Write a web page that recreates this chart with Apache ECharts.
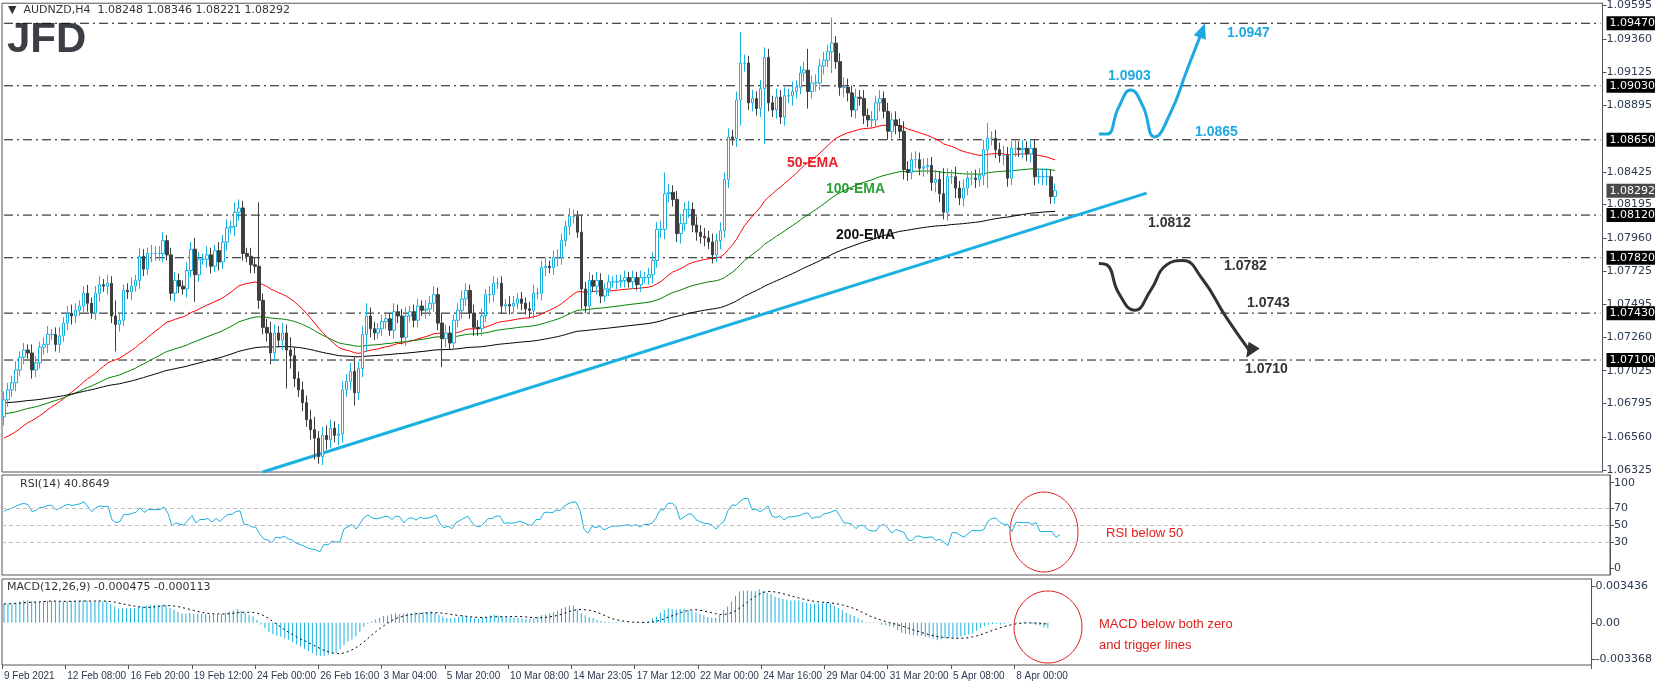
<!DOCTYPE html>
<html>
<head>
<meta charset="utf-8">
<script src="https://cdn.jsdelivr.net/npm/echarts@6/dist/echarts.min.js"></script>
<style>
  html, body { margin: 0; padding: 0; background: #fff; }
  #chart { width: 1655px; height: 687px; }
</style>
</head>
<body>
<div id="chart"></div>
<script>
// AUDNZD H4 closes
var closes = [
  1.0682,1.0689,1.0694,1.0703,1.0712,1.0717,1.0715,1.0703,1.0708,1.0719,1.0721,1.0728,1.0728,1.0721,1.0727,1.0736,1.0743,1.0741,1.0745,1.0748,
  1.0757,1.0750,1.0743,1.0757,1.0763,1.0762,1.0764,1.0741,1.0735,1.0738,1.0759,1.0758,1.0762,1.0766,1.0783,1.0774,1.0785,1.0785,1.0785,1.0785,
  1.0794,1.0784,1.0757,1.0766,1.0762,1.0760,1.0773,1.0788,1.0770,1.0781,1.0781,1.0784,1.0776,1.0787,1.0779,1.0793,1.0803,1.0804,1.0814,1.0817,
  1.0785,1.0783,1.0777,1.0776,1.0752,1.0733,1.0729,1.0715,1.0729,1.0724,1.0729,1.0717,1.0713,1.0697,1.0689,1.0680,1.0668,1.0661,1.0655,1.0642,
  1.0657,1.0654,1.0662,1.0657,1.0658,1.0689,1.0695,1.0702,1.0687,1.0704,1.0728,1.0741,1.0732,1.0729,1.0732,1.0737,1.0739,1.0731,1.0744,1.0741,
  1.0726,1.0741,1.0744,1.0738,1.0748,1.0745,1.0746,1.0750,1.0756,1.0736,1.0725,1.0729,1.0722,1.0738,1.0745,1.0753,1.0759,1.0743,1.0733,1.0732,
  1.0741,1.0756,1.0756,1.0764,1.0764,1.0748,1.0749,1.0748,1.0750,1.0753,1.0750,1.0746,1.0745,1.0757,1.0757,1.0775,1.0776,1.0775,1.0782,1.0782,
  1.0794,1.0804,1.0811,1.0811,1.0800,1.0760,1.0748,1.0766,1.0762,1.0766,1.0755,1.0760,1.0765,1.0765,1.0765,1.0766,1.0768,1.0765,1.0768,1.0763,
  1.0768,1.0768,1.0770,1.0780,1.0802,1.0802,1.0827,1.0828,1.0823,1.0799,1.0806,1.0816,1.0816,1.0805,1.0800,1.0797,1.0796,1.0793,1.0784,1.0794,
  1.0801,1.0837,1.0867,1.0866,1.0893,1.0919,1.0919,1.0891,1.0894,1.0887,1.0901,1.0923,1.0891,1.0886,1.0895,1.0881,1.0896,1.0896,1.0899,1.0902,
  1.0912,1.0914,1.0899,1.0905,1.0905,1.0917,1.0921,1.0927,1.0933,1.0920,1.0902,1.0902,1.0898,1.0886,1.0895,1.0894,1.0882,1.0879,1.0879,1.0891,
  1.0894,1.0885,1.0871,1.0879,1.0875,1.0871,1.0844,1.0842,1.0851,1.0851,1.0845,1.0846,1.0847,1.0835,1.0837,1.0827,1.0814,1.0839,1.0839,1.0831,
  1.0824,1.0831,1.0838,1.0838,1.0837,1.0840,1.0858,1.0866,1.0866,1.0858,1.0854,1.0854,1.0838,1.0859,1.0859,1.0858,1.0859,1.0855,1.0859,1.0839,
  1.0839,1.0839,1.0839,1.0825,1.08292
];
var firstOpen = 1.0670;
// wick length per bar in pips (both sides)
var wick = [
  6,5,5,6,4,5,4,6,5,4,5,6,4,5,6,4,5,6,5,4, 5,6,4,5,6,4,6,5,9,5,4,5,6,4,6,5,4,6,5,5,
  6,4,5,6,5,4,6,5,8,5,4,6,5,4,6,5,6,4,7,6, 5,4,6,5,6,5,6,8,6,5,7,6,9,6,5,6,5,7,6,5,
  6,7,6,5,7,6,5,6,7,5,6,5,6,5,4,5,5,4,6,5, 5,6,4,5,5,4,6,5,6,5,4,6,5,4,5,6,5,4,6,5,
  5,4,6,5,4,5,4,6,5,4,5,4,5,6,4,5,6,4,5,6, 5,4,6,5,4,7,5,6,4,6,5,4,5,4,5,4,5,4,5,4,
  5,4,5,6,5,6,7,6,5,6,7,5,6,5,6,5,6,5,6,5, 6,5,6,5,6,7,6,5,6,5,6,7,6,5,6,5,6,5,7,5,
  5,6,7,5,6,5,6,5,6,5,6,7,6,5,6,5,6,5,6,5, 6,5,6,5,6,5,7,6,5,6,5,6,5,6,7,6,5,6,5,7,
  5,6,5,5,6,5,7,6,5,6,5,7,6,5,6,5,6,5,6,6, 5,6,6,5,5
];
// a few long wicks: [bar, high, low]
var spikes = [[28,1.0752,1.0716],[48,1.0796,1.0751],[64,1.0821,1.0746],[71,1.0728,1.0690],[78,1.0670,1.0640],
  [88,1.0712,1.0678],[91,1.0750,1.0716],[110,1.0743,1.0705],[145,1.0812,1.0746],[166,1.0842,1.0797],
  [185,1.0941,1.0875],[191,1.0929,1.0862],[202,1.0929,1.0887],[208,1.0951,1.0912],[236,1.0845,1.0812],[247,1.0877,1.0831]];
var emaSeeds = { e50: 1.0654, e100: 1.0672, e200: 1.0680, e12: 1.0670, e26: 1.0652 };
var levels = [1.0947, 1.0903, 1.0865, 1.0812, 1.0782, 1.0743, 1.0710];
var lastPrice = 1.08292;
var trendLine = [[65, 1.06312], [287, 1.08275]];
var bullPath = [[275,1.0869],[277,1.0869],[280,1.0888],[283,1.0900],[286,1.0889],[289,1.0867],[293,1.0884],[297,1.0913],[301,1.0942]];
var bearPath = [[275,1.0778],[277,1.0777],[280,1.0757],[284,1.0745],[288,1.0759],[292,1.0777],[296,1.0780],[301,1.0767],[307,1.0740],[313,1.0716]];
var priceTicks = [1.09595,1.0936,1.09125,1.08895,1.08425,1.08195,1.0796,1.07725,1.07495,1.0726,1.07025,1.06795,1.0656,1.06325];
var timeLabels = ['9 Feb 2021','12 Feb 08:00','16 Feb 20:00','19 Feb 12:00','24 Feb 00:00','26 Feb 16:00','3 Mar 04:00','5 Mar 20:00',
  '10 Mar 08:00','14 Mar 23:05','17 Mar 12:00','22 Mar 00:00','24 Mar 16:00','29 Mar 04:00','31 Mar 20:00','5 Apr 08:00','8 Apr 00:00'];
var slots = 402, labelStep = 16;

var blue = '#1ab1e0';
var cats = [], ohlc = [];
for (var i = 0; i < slots; i++) cats.push(i % labelStep === 0 ? (timeLabels[i / labelStep] || '') : '');
var spikeMap = {};
spikes.forEach(function (s) { spikeMap[s[0]] = s; });
for (var i = 0; i < closes.length; i++) {
  var o = i ? closes[i - 1] : firstOpen, c = closes[i], w = wick[i] * 0.0001;
  var hi = Math.max(o, c) + w, lo = Math.min(o, c) - w;
  if (spikeMap[i]) { hi = Math.max(hi, spikeMap[i][1]); lo = Math.min(lo, spikeMap[i][2]); }
  ohlc.push([o, c, lo, hi]);
}
function ema(src, n, seed) {
  var k = 2 / (n + 1), v = seed, out = [];
  src.forEach(function (x) { v = v + k * (x - v); out.push(v); });
  return out;
}
var ema50 = ema(closes, 50, emaSeeds.e50), ema100 = ema(closes, 100, emaSeeds.e100), ema200 = ema(closes, 200, emaSeeds.e200);
var e12 = ema(closes, 12, emaSeeds.e12), e26 = ema(closes, 26, emaSeeds.e26);
var macd = e12.map(function (v, i) { return v - e26[i]; });
var signal = macd.map(function (v, i) {
  var s = 0, n = 0; for (var j = Math.max(0, i - 8); j <= i; j++) { s += macd[j]; n++; } return s / n;
});
var rsi = [], ag = 0.0006, al = 0.0003;
for (var i = 0; i < closes.length; i++) {
  var d = i ? closes[i] - closes[i - 1] : 0;
  ag = (ag * 13 + Math.max(d, 0)) / 14; al = (al * 13 + Math.max(-d, 0)) / 14;
  rsi.push(100 - 100 / (1 + ag / al));
}

var dashDot = [9, 4, 2, 4];
function levelSeries(v, bg, hideLine) {
  return {
    type: 'line', data: [[0, v], [slots - 1, v]], silent: true, symbol: 'none', z: 1,
    lineStyle: { color: '#111', type: dashDot, width: 1, opacity: hideLine ? 0 : 1 },
    endLabel: { show: true, distance: 6, formatter: v.toFixed(5), color: '#fff', backgroundColor: bg,
      padding: [2, 3, 1, 3], fontSize: 11, fontFamily: 'DejaVu Sans' },
    labelLayout: { hideOverlap: false }
  };
}

var chart = echarts.init(document.getElementById('chart'), null, { renderer: 'canvas' });
var axisText = { color: '#2b3a4f', fontSize: 11, fontFamily: 'DejaVu Sans' };
var grids = [
  { left: 2, right: 45, top: 3, height: 469 },
  { left: 2, right: 45, top: 475, height: 100 },
  { left: 2, right: 45, top: 579, height: 86 }
].map(function (g) { g.show = true; g.borderColor = '#555'; g.borderWidth = 1; return g; });

function onLabel(i) { return i % labelStep === 0 && i / labelStep < timeLabels.length; }
function xAx(idx, labels) {
  return {
    type: 'category', gridIndex: idx, data: cats, boundaryGap: true,
    axisLine: { show: false, onZero: false }, axisTick: { show: labels, interval: onLabel, length: 4, lineStyle: { color: '#555' } },
    axisLabel: labels ? { show: true, interval: onLabel, align: 'left', margin: 6, color: '#2b3a4f', fontSize: 10, fontFamily: 'Liberation Sans' } : { show: false },
    splitLine: { show: false }
  };
}
function yAx(idx, min, max, ticks, fmt) {
  return {
    type: 'value', gridIndex: idx, position: 'right', min: min, max: max, scale: true,
    axisLine: { show: true, lineStyle: { color: '#555' } },
    axisTick: { show: true, customValues: ticks, length: 4, lineStyle: { color: '#555' } },
    axisLabel: Object.assign({ customValues: ticks, formatter: fmt, margin: 4 }, axisText),
    splitLine: { show: false }
  };
}

var series = [];
levels.forEach(function (v) { series.push(levelSeries(v, '#000', false)); });
series.push(levelSeries(lastPrice, '#4a4a4a', true));
series = series.concat([
  {
    type: 'candlestick', data: ohlc, barWidth: 3, z: 3,
    itemStyle: { color: '#ffffff', color0: '#3f3f3f', borderColor: blue, borderColor0: '#3f3f3f', borderWidth: 1 }
  },
  { type: 'line', data: ema50, showSymbol: false, lineStyle: { color: '#ff0000', width: 1 } },
  { type: 'line', data: ema100, showSymbol: false, lineStyle: { color: '#008000', width: 1 } },
  { type: 'line', data: ema200, showSymbol: false, lineStyle: { color: '#000', width: 1 } },
  { type: 'line', data: trendLine, showSymbol: false, lineStyle: { color: blue, width: 3 } },
  { type: 'line', data: bullPath, smooth: 0.5, symbol: 'none', lineStyle: { color: '#1ea8e0', width: 3 },
    markPoint: { symbol: 'triangle', symbolSize: [13, 15], symbolRotate: -20, itemStyle: { color: '#1ea8e0' },
      data: [{ coord: bullPath[bullPath.length - 1] }] } },
  { type: 'line', data: bearPath, smooth: 0.5, symbol: 'none', lineStyle: { color: '#333', width: 3 },
    markPoint: { symbol: 'triangle', symbolSize: [13, 15], symbolRotate: 148, itemStyle: { color: '#333' },
      data: [{ coord: bearPath[bearPath.length - 1] }] } },
  {
    type: 'line', xAxisIndex: 1, yAxisIndex: 1, data: rsi, showSymbol: false, lineStyle: { color: blue, width: 1 },
    markLine: { silent: true, symbol: 'none', label: { show: false }, lineStyle: { color: '#c0c0c0', type: [4, 3], width: 1 },
      data: [{ yAxis: 70 }, { yAxis: 50 }, { yAxis: 30 }] }
  },
  { type: 'bar', xAxisIndex: 2, yAxisIndex: 2, data: macd, barWidth: 1, itemStyle: { color: blue } },
  { type: 'line', xAxisIndex: 2, yAxisIndex: 2, data: signal, showSymbol: false, lineStyle: { color: '#000', width: 1, type: [2, 3] } }
]);

chart.setOption({
  animation: false,
  grid: grids,
  xAxis: [xAx(0, false), xAx(1, false), xAx(2, true)],
  yAxis: [
    yAx(0, 1.06312, 1.09611, priceTicks, function (v) { return v.toFixed(5); }),
    yAx(1, -8, 109, [0, 30, 50, 70, 100], function (v) { return String(v); }),
    yAx(2, -0.00392, 0.00408, [0.003436, 0, -0.003368], function (v) { return v === 0 ? '0.00' : v.toFixed(6); })
  ],
  series: series,
  graphic: [
    { type: 'text', left: 8, top: 5, style: { text: '▼  AUDNZD,H4  1.08248 1.08346 1.08221 1.08292', fill: '#333', font: '11px "DejaVu Sans"' } },
    { type: 'text', left: 7, top: 19, style: { text: 'JFD', fill: '#3b3e45', font: 'bold 42px "Liberation Sans"' } },
    { type: 'text', left: 20, top: 479, style: { text: 'RSI(14) 40.8649', fill: '#333', font: '11px "DejaVu Sans"' } },
    { type: 'text', left: 7, top: 582, style: { text: 'MACD(12,26,9) -0.000475 -0.000113', fill: '#333', font: '11px "DejaVu Sans"' } },
    { type: 'text', left: 787, top: 156, style: { text: '50-EMA', fill: '#e8232a', font: 'bold 14px "Liberation Sans"' } },
    { type: 'text', left: 826, top: 182, style: { text: '100-EMA', fill: '#2aa038', font: 'bold 14px "Liberation Sans"' } },
    { type: 'text', left: 836, top: 228, style: { text: '200-EMA', fill: '#111', font: 'bold 14px "Liberation Sans"' } },
    { type: 'text', left: 1227, top: 26, style: { text: '1.0947', fill: '#1ea8e0', font: 'bold 14px "Liberation Sans"' } },
    { type: 'text', left: 1108, top: 69, style: { text: '1.0903', fill: '#1ea8e0', font: 'bold 14px "Liberation Sans"' } },
    { type: 'text', left: 1195, top: 125, style: { text: '1.0865', fill: '#1ea8e0', font: 'bold 14px "Liberation Sans"' } },
    { type: 'text', left: 1148, top: 216, style: { text: '1.0812', fill: '#333', font: 'bold 14px "Liberation Sans"' } },
    { type: 'text', left: 1224, top: 259, style: { text: '1.0782', fill: '#333', font: 'bold 14px "Liberation Sans"' } },
    { type: 'text', left: 1247, top: 296, style: { text: '1.0743', fill: '#333', font: 'bold 14px "Liberation Sans"' } },
    { type: 'text', left: 1245, top: 362, style: { text: '1.0710', fill: '#333', font: 'bold 14px "Liberation Sans"' } },
    { type: 'ellipse', shape: { cx: 1044, cy: 532, rx: 34, ry: 40 }, style: { fill: 'none', stroke: '#e0201c', lineWidth: 1 } },
    { type: 'ellipse', shape: { cx: 1048, cy: 627, rx: 34, ry: 36 }, style: { fill: 'none', stroke: '#e0201c', lineWidth: 1 } },
    { type: 'text', left: 1106, top: 527, style: { text: 'RSI below 50', fill: '#e0201c', font: '13px "Liberation Sans"' } },
    { type: 'text', left: 1099, top: 614, style: { text: 'MACD below both zero\nand trigger lines', fill: '#e0201c', font: '13px "Liberation Sans"', lineHeight: 21 } }
  ]
});
</script>
</body>
</html>
